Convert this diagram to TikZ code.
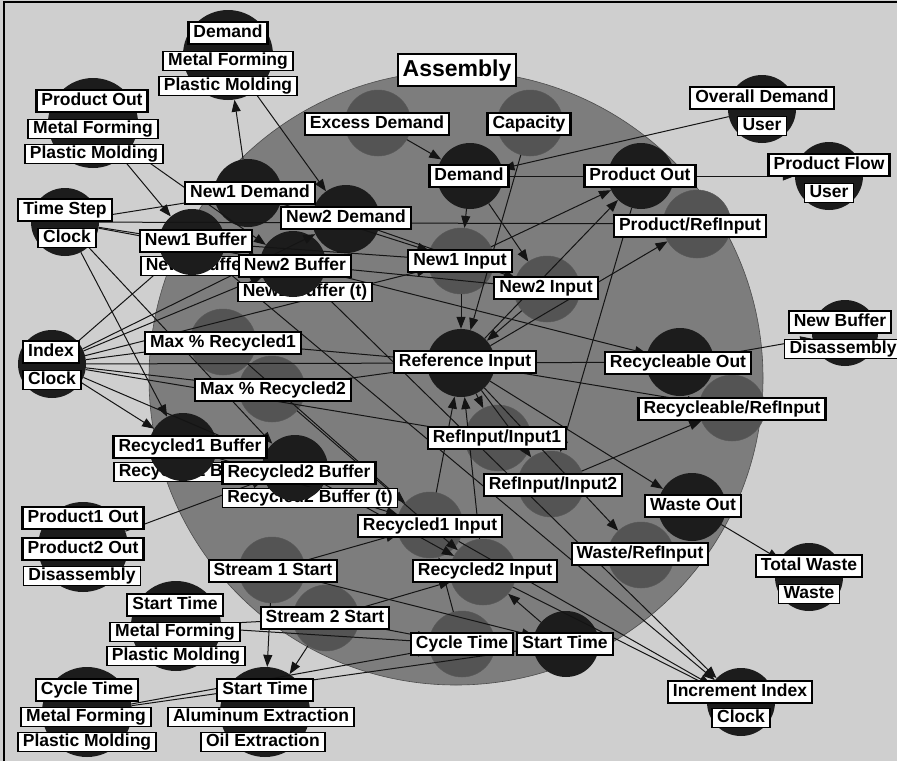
\documentclass[tikz,border=0pt]{standalone}
\usepackage{fontspec}
\setmainfont{Liberation Sans}
\usetikzlibrary{arrows.meta}
\definecolor{bg}{gray}{0.81}
\definecolor{bigc}{gray}{0.49}
\definecolor{midc}{gray}{0.33}
\definecolor{darkc}{gray}{0.11}
\definecolor{linec}{gray}{0.08}
\begin{document}
\begin{tikzpicture}[x=1pt,y=-1pt,
  mainlab/.style={draw=black, fill=white, line width=2.2pt, font=\fontsize{17.5}{20}\selectfont\bfseries, inner xsep=5pt, inner ysep=3pt, text height=12.8pt, text depth=3.6pt},
  sublab/.style={mainlab, line width=1.5pt, inner ysep=1.5pt},
  dnode/.style={circle, fill=darkc, draw=none, minimum size=#1, inner sep=0pt},
  mnode/.style={circle, fill=midc, draw=black!65, line width=0.5pt, minimum size=#1, inner sep=0pt},
  link/.style={draw=linec, line width=1pt},
  arr/.style={link, -{Triangle[length=12pt,width=9pt]}}]
\useasboundingbox (0,0) rectangle (897,761);
\fill[bg] (0,0) rectangle (897,761);
\draw[line width=2pt] (4,761) -- (4,2) -- (897,2);
\node[circle, fill=bigc, draw=black!70, line width=0.6pt, minimum size=614pt, inner sep=0pt] (big) at (456,378) {};
% outer circles
\node[dnode=90] (c-dmdT) at (228,55) {};
\node[dnode=90] (c-prodOutL) at (93,123) {};
\node[dnode=68] (c-timeStep) at (65,222) {};
\node[dnode=68] (c-index) at (52,364) {};
\node[dnode=68] (c-ovDem) at (762,109) {};
\node[dnode=68] (c-prodFlow) at (829,176) {};
\node[dnode=66] (c-newBufD) at (845,333) {};
\node[dnode=68] (c-totWaste) at (809,577) {};
\node[dnode=68] (c-incIdx) at (741,702) {};
\node[dnode=90] (c-prodDis) at (83,547) {};
\node[dnode=90] (c-stMF) at (176,626) {};
\node[dnode=90] (c-ctMF) at (87,712) {};
\node[dnode=90] (c-stAE) at (265,712) {};
% inner circles
\node[dnode=68] (c-new1Dem) at (248,193) {};
\node[dnode=68] (c-new2Dem) at (346,219) {};
\node[dnode=66] (c-new1Buf) at (192,242) {};
\node[dnode=66] (c-new2Buf) at (293,264) {};
\node[mnode=66] (c-excDem) at (378,123) {};
\node[mnode=66] (c-capacity) at (530,123) {};
\node[dnode=66] (c-demand) at (470,176) {};
\node[dnode=66] (c-prodOut) at (641,176) {};
\node[mnode=68] (c-prodRef) at (697,224) {};
\node[mnode=66] (c-new1In) at (461,261) {};
\node[mnode=66] (c-new2In) at (547,289) {};
\node[mnode=66] (c-maxR1) at (223,342) {};
\node[mnode=66] (c-maxR2) at (272,389) {};
\node[dnode=68] (c-refIn) at (461,363) {};
\node[dnode=68] (c-recOut) at (680,362) {};
\node[mnode=66] (c-recRef) at (732,408) {};
\node[mnode=66] (c-ri1) at (498,438) {};
\node[mnode=66] (c-ri2) at (551,484) {};
\node[dnode=68] (c-rec1Buf) at (183,447) {};
\node[dnode=66] (c-rec2Buf) at (295,468) {};
\node[dnode=68] (c-wasteOut) at (692,507) {};
\node[mnode=66] (c-wasteRef) at (641,555) {};
\node[mnode=66] (c-rec1In) at (430,525) {};
\node[mnode=66] (c-rec2In) at (483,572) {};
\node[mnode=66] (c-s1) at (272,570) {};
\node[mnode=66] (c-s2) at (326,618) {};
\node[mnode=66] (c-cycT) at (462,644) {};
\node[dnode=66] (c-startT) at (566,644) {};
% connectors
\foreach \a/\b in {new1Dem/dmdT, dmdT/new2Dem, prodOutL/new1Buf, prodOutL/new2Buf, excDem/demand, ovDem/demand, prodOut/prodFlow, capacity/refIn,
  timeStep/new1Buf, timeStep/new2Buf, timeStep/rec1Buf, timeStep/rec2Buf, timeStep/new1Dem, timeStep/prodRef,
  index/new1Buf, index/new2Buf, index/rec1Buf, index/rec2Buf, index/refIn, index/maxR1, index/maxR2, index/new1In, index/new2Dem, index/ri1,
  demand/new1In, demand/new2In, new1Dem/new1In, new2Dem/new2In, new1Buf/new1In, new2Buf/new2In, demand/prodOut,
  new1In/refIn, new2In/refIn, maxR1/refIn, maxR2/refIn, rec1In/refIn, rec2In/refIn,
  refIn/prodRef, refIn/recRef, refIn/wasteRef, refIn/ri1, refIn/ri2, refIn/prodOut, new1In/prodOut, prodOut/ri2,
  new2Buf/recOut, refIn/recOut, recOut/newBufD, refIn/wasteOut, wasteOut/totWaste, ri2/recRef,
  s1/rec1In, s2/rec2In, cycT/rec1In, startT/rec2In, stMF/s2, stMF/cycT, s2/stAE, s1/stAE, ctMF/cycT, ctMF/startT, s2/cycT, s1/startT,
  rec1In/incIdx, rec2In/incIdx, new1Buf/incIdx, new2Buf/incIdx, prodDis/rec2Buf, rec1Buf/rec1In, rec2Buf/rec2In, maxR1/rec1In, maxR2/rec2In}
  \draw[arr] (c-\a) -- (c-\b);
% labels
\node[mainlab, font=\fontsize{23}{26}\selectfont\bfseries, text height=17pt, text depth=5pt, inner ysep=5pt] (l-asm) at (457,70) {Assembly};
\node[mainlab] (l-dmdT) at (228,33) {Demand};
\node[sublab] (s-dmdT-1) at (228,61) {Metal Forming};
\node[sublab] (s-dmdT-2) at (228,86) {Plastic Molding};
\node[mainlab] (l-prodOutL) at (92,101) {Product Out};
\node[sublab] (s-prodOutL-1) at (93,129) {Metal Forming};
\node[sublab] (s-prodOutL-2) at (94,154) {Plastic Molding};
\node[mainlab] (l-timeStep) at (65,210) {Time Step};
\node[sublab] (s-timeStep) at (67,238) {Clock};
\node[mainlab] (l-index) at (51,352) {Index};
\node[sublab] (s-index) at (52,380) {Clock};
\node[mainlab] (l-ovDem) at (762,98) {Overall Demand};
\node[sublab] (s-ovDem) at (762,126) {User};
\node[mainlab] (l-prodFlow) at (829,165) {Product Flow};
\node[sublab] (s-prodFlow) at (829,193) {User};
\node[mainlab] (l-newBufD) at (840,322) {New Buffer};
\node[sublab] (s-newBufD) at (843,349) {Disassembly};
\node[mainlab] (l-totWaste) at (809,566) {Total Waste};
\node[sublab] (s-totWaste) at (809,594) {Waste};
\node[mainlab] (l-incIdx) at (740,692) {Increment Index};
\node[sublab] (s-incIdx) at (741,718) {Clock};
\node[mainlab] (l-prodDis-1) at (83,518) {Product1 Out};
\node[mainlab] (l-prodDis-2) at (83,549) {Product2 Out};
\node[sublab] (s-prodDis) at (82,576) {Disassembly};
\node[mainlab] (l-stMF) at (175,605) {Start Time};
\node[sublab] (s-stMF-1) at (175,632) {Metal Forming};
\node[sublab] (s-stMF-2) at (176,656) {Plastic Molding};
\node[mainlab] (l-ctMF) at (87,690) {Cycle Time};
\node[sublab] (s-ctMF-1) at (86,717) {Metal Forming};
\node[sublab] (s-ctMF-2) at (87,742) {Plastic Molding};
\node[mainlab] (l-stAE) at (265,690) {Start Time};
\node[sublab] (s-stAE-1) at (261,717) {Aluminum Extraction};
\node[sublab] (s-stAE-2) at (263,742) {Oil Extraction};
\node[mainlab] (l-new1Dem) at (250,193) {New1 Demand};
\node[mainlab] (l-new2Dem) at (346,218) {New2 Demand};
\node[mainlab] (l-excDem) at (377,124) {Excess Demand};
\node[mainlab] (l-capacity) at (529,124) {Capacity};
\node[mainlab] (l-demand) at (469,176) {Demand};
\node[mainlab] (l-prodOut) at (640,176) {Product Out};
\node[mainlab] (l-prodRef) at (690,226) {Product/RefInput};
\node[mainlab] (l-new1In) at (460,261) {New1 Input};
\node[mainlab] (l-new2In) at (546,288) {New2 Input};
\node[mainlab] (l-maxR1) at (223,343) {Max \% Recycled1};
\node[mainlab] (l-maxR2) at (273,390) {Max \% Recycled2};
\node[mainlab] (l-refIn) at (465,362) {Reference Input};
\node[mainlab] (l-recOut) at (678,363) {Recycleable Out};
\node[mainlab] (l-recRef) at (732,409) {Recycleable/RefInput};
\node[mainlab] (l-ri1) at (497,438) {RefInput/Input1};
\node[mainlab] (l-ri2) at (553,485) {RefInput/Input2};
\node[mainlab] (l-wasteOut) at (693,506) {Waste Out};
\node[mainlab] (l-wasteRef) at (640,554) {Waste/RefInput};
\node[mainlab] (l-rec1In) at (430,526) {Recycled1 Input};
\node[mainlab] (l-rec2In) at (485,571) {Recycled2 Input};
\node[mainlab] (l-s1) at (273,571) {Stream 1 Start};
\node[mainlab] (l-s2) at (325,618) {Stream 2 Start};
\node[mainlab] (l-cycT) at (462,644) {Cycle Time};
\node[mainlab] (l-startT) at (565,644) {Start Time};
% buffers with partly hidden (t) labels
\node[sublab, anchor=west] (s-new1Buf) at (140,266) {New1 Buffe};
\begin{scope}
  \clip (s-new1Buf.south west) rectangle (s-new1Buf.north east);
  \fill[darkc] (c-new1Buf.center) circle[radius=33];
\end{scope}
\node[mainlab] (l-new1Buf) at (196,241) {New1 Buffer};
\node[sublab] (s-new2Buf) at (305,292) {New2 Buffer (t)};
\begin{scope}
  \clip (s-new2Buf.south west) rectangle (s-new2Buf.north east);
  \fill[darkc] (c-new2Buf.center) circle[radius=33];
\end{scope}
\node[mainlab] (l-new2Buf) at (295,266) {New2 Buffer};
\node[sublab, anchor=west] (s-rec1Buf) at (113,472) {Recycled1 B};
\begin{scope}
  \clip (s-rec1Buf.south west) rectangle (s-rec1Buf.north east);
  \fill[darkc] (c-rec1Buf.center) circle[radius=34];
\end{scope}
\node[mainlab] (l-rec1Buf) at (190,447) {Recycled1 Buffer};
\node[sublab] (s-rec2Buf) at (310,498) {Recycled2 Buffer (t)};
\begin{scope}
  \clip (s-rec2Buf.south west) rectangle (s-rec2Buf.north east);
  \fill[darkc] (c-rec2Buf.center) circle[radius=33];
\end{scope}
\node[mainlab] (l-rec2Buf) at (299,473) {Recycled2 Buffer};
\end{tikzpicture}
\end{document}
